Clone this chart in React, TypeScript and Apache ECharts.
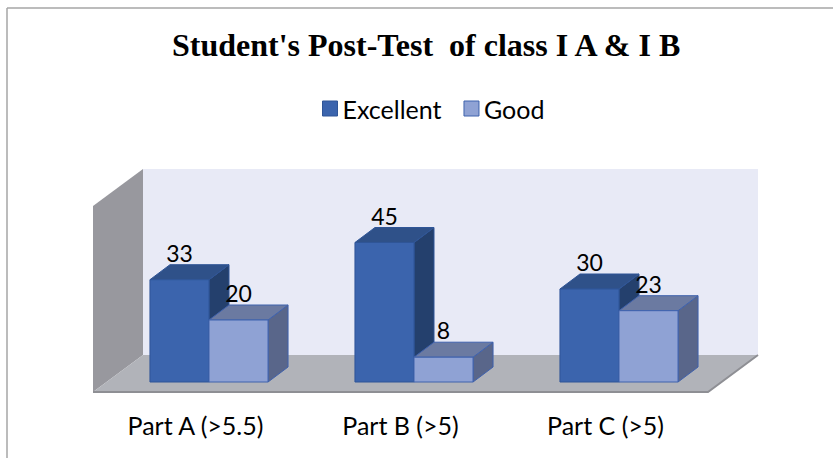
import React, { useEffect, useRef } from "react";
import * as echarts from "echarts";

const categories = ["Part A (>5.5)", "Part B (>5)", "Part C (>5)"];
const excellent = [33, 45, 30];
const good = [20, 8, 23];
const seriesNames = ["Excellent", "Good"];
const yMax = 60;

const palette = [
  { front: "#3b64ad", top: "#2f5189", side: "#24406d", edge: "#2f5597" },
  { front: "#8fa2d4", top: "#6b7aa1", side: "#59668a", edge: "#3f62ad" },
];

// depth geometry (pixels)
const BAR_DX = 20;
const BAR_DY = -15;
const FRONT_OFF = [-13.5, 10];
const BACK_OFF = [36.5, -27];

function barRenderer(sIdx: number) {
  return (params: any, api: any) => {
    const cat = api.value(0);
    const val = api.value(1);
    const base = api.coord([cat, 0]);
    const top = api.coord([cat, val]);
    const bw = api.size([1, 0])[0] * 0.288;
    const x0 = sIdx === 0 ? base[0] - bw : base[0];
    const x1 = x0 + bw;
    const yb = base[1];
    const yt = top[1];
    const c = palette[sIdx];
    return {
      type: "group",
      children: [
        {
          type: "polygon",
          shape: { points: [[x1, yt], [x1 + BAR_DX, yt + BAR_DY], [x1 + BAR_DX, yb + BAR_DY], [x1, yb]] },
          style: { fill: c.side, stroke: c.edge, lineWidth: 1 },
        },
        {
          type: "polygon",
          shape: { points: [[x0, yt], [x0 + BAR_DX, yt + BAR_DY], [x1 + BAR_DX, yt + BAR_DY], [x1, yt]] },
          style: { fill: c.top, stroke: c.edge, lineWidth: 1 },
        },
        {
          type: "rect",
          shape: { x: x0, y: yt, width: bw, height: yb - yt },
          style: { fill: c.front, stroke: c.edge, lineWidth: 1 },
        },
        {
          type: "text",
          x: x0 + bw / 2,
          y: yt + BAR_DY - 12,
          style: {
            text: String(val),
            fill: "#000",
            fontSize: 23,
            fontFamily: "Lato",
            align: "center",
            verticalAlign: "middle",
          },
        },
      ],
    };
  };
}

function wallRenderer(params: any, api: any) {
  const cs = params.coordSys;
  const gx = cs.x;
  const gy = cs.y;
  const gw = cs.width;
  const yb = cs.y + cs.height;
  const [fx, fy] = FRONT_OFF;
  const [bx, by] = BACK_OFF;
  return {
    type: "group",
    children: [
      {
        type: "polygon",
        shape: { points: [[gx + bx, gy + by], [gx + gw + bx, gy + by], [gx + gw + bx, yb + by], [gx + bx, yb + by]] },
        style: { fill: "#e8eaf6" },
      },
      {
        type: "polygon",
        shape: { points: [[gx + fx, gy + fy], [gx + bx, gy + by], [gx + bx, yb + by], [gx + fx, yb + fy]] },
        style: { fill: "#98989e" },
      },
      {
        type: "polygon",
        shape: { points: [[gx + fx, yb + fy], [gx + bx, yb + by], [gx + gw + bx, yb + by], [gx + gw + fx, yb + fy]] },
        style: { fill: "#b1b3b9" },
      },
      {
        type: "polyline",
        shape: { points: [[gx + fx, yb + fy], [gx + gw + fx, yb + fy], [gx + gw + bx, yb + by]] },
        style: { stroke: "#8e8f94", lineWidth: 2, fill: "none" },
      },
    ],
  };
}

export default function App() {
  const ref = useRef<HTMLDivElement>(null);
  useEffect(() => {
    if (!ref.current) return;
    const chart = echarts.init(ref.current, null, { renderer: "svg" });
    chart.setOption({
      animation: false,
      backgroundColor: "#ffffff",
      title: {
        text: "Student's Post-Test  of class I A & I B",
        left: 167,
        top: 24,
        textStyle: { fontFamily: "Liberation Serif", fontWeight: "bold", fontSize: 32, color: "#000" },
      },
      legend: {
        top: 91,
        left: 317,
        icon: "rect",
        itemWidth: 15,
        itemHeight: 15,
        itemGap: 22,
        textStyle: { fontFamily: "Lato", fontSize: 25, color: "#000" },
        data: [
          { name: seriesNames[0], itemStyle: { color: palette[0].front, borderColor: palette[0].edge, borderWidth: 1 } },
          { name: seriesNames[1], itemStyle: { color: palette[1].front, borderColor: palette[1].edge, borderWidth: 1 } },
        ],
      },
      graphic: [
        { type: "line", shape: { x1: 7, y1: 8, x2: 833, y2: 8 }, style: { stroke: "#a6a6a6", lineWidth: 1.5 } },
        { type: "line", shape: { x1: 7, y1: 8, x2: 7, y2: 458 }, style: { stroke: "#a6a6a6", lineWidth: 1.5 } },
      ],
      grid: { left: 106.5, right: 111.5, top: 196, bottom: 76 },
      xAxis: {
        type: "category",
        data: categories,
        axisLine: { show: false },
        axisTick: { show: false },
        splitLine: { show: false },
        axisLabel: {
          margin: 30,
          formatter: (v: string) => `{a|${v}}`,
          rich: { a: { padding: [0, 27, 0, 0], fontSize: 25, fontFamily: "Lato", color: "#000", lineHeight: 25 } },
        },
      },
      yAxis: { type: "value", min: 0, max: yMax, show: false, splitLine: { show: false } },
      series: [
        {
          type: "custom",
          name: "walls",
          z: 1,
          silent: true,
          clip: false,
          renderItem: wallRenderer,
          data: [[0, 0]],
          encode: { x: 0, y: 1 },
        },
        {
          type: "custom",
          name: seriesNames[0],
          z: 2,
          clip: false,
          renderItem: barRenderer(0),
          itemStyle: { color: palette[0].front, borderColor: palette[0].edge },
          data: excellent.map((v, i) => [i, v]),
          encode: { x: 0, y: 1 },
        },
        {
          type: "custom",
          name: seriesNames[1],
          z: 3,
          clip: false,
          renderItem: barRenderer(1),
          itemStyle: { color: palette[1].front, borderColor: palette[1].edge },
          data: good.map((v, i) => [i, v]),
          encode: { x: 0, y: 1 },
        },
      ],
    });
    return () => chart.dispose();
  }, []);
  return <div ref={ref} style={{ position: "absolute", left: 0, top: 0, width: 833, height: 458 }} />;
}
